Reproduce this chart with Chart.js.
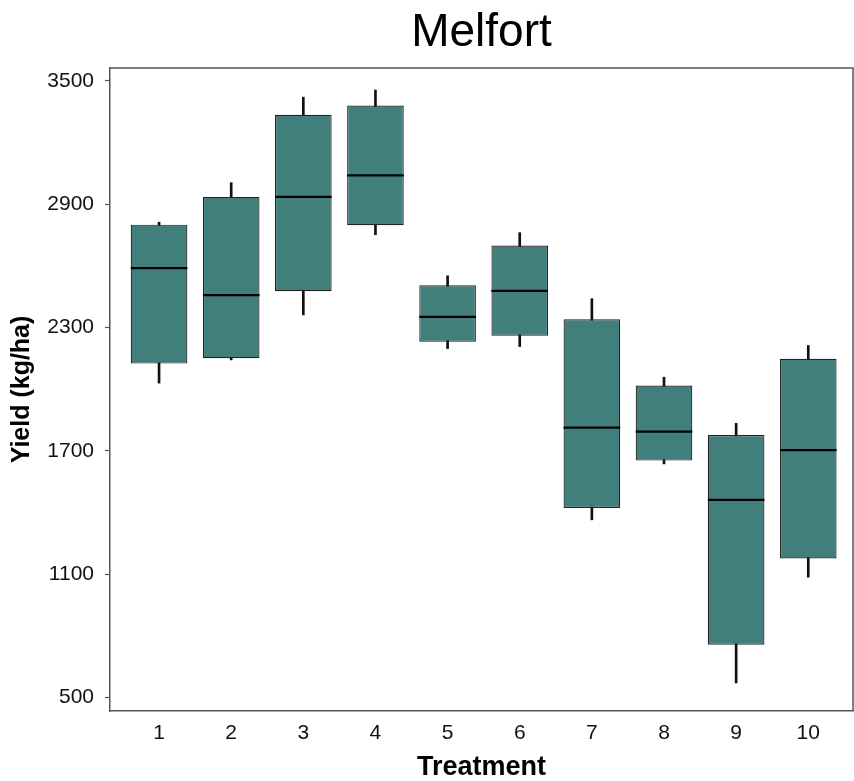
<!DOCTYPE html>
<html>
<head>
<meta charset="utf-8">
<script src="https://cdn.jsdelivr.net/npm/chart.js@4/dist/chart.umd.min.js"></script>
<style>
  body { margin: 0; background: #fff; }
  #wrap { width: 854px; height: 781px; }
</style>
</head>
<body>
<div id="wrap"><canvas id="chart" width="854" height="781"></canvas></div>
<script>
// Melfort yield per treatment (kg/ha)
const treatments = [1, 2, 3, 4, 5, 6, 7, 8, 9, 10];
const whiskerLow  = [2030, 2143, 2362, 2752, 2198, 2208, 1365, 1637,  571, 1086];
const q1          = [2125, 2151, 2477, 2798, 2231, 2261, 1423, 1653,  757, 1177];
const median      = [2589, 2458, 2936, 3041, 2352, 2479, 1814, 1794, 1462, 1704];
const q3          = [2801, 2936, 3335, 3380, 2506, 2699, 2341, 2018, 1778, 2148];
const whiskerHigh = [2813, 3005, 3421, 3456, 2552, 2762, 2441, 2059, 1835, 2213];
const yTicks = [500, 1100, 1700, 2300, 2900, 3500];

const FONT = "'Liberation Sans', Arial, Helvetica, sans-serif";
const BOX_FILL = '#407f7c';
const FRAME = '#555555';

// top and right edges of the panel frame
const framePlugin = {
  id: 'frame',
  afterDraw(chart) {
    const { ctx, chartArea: a } = chart;
    ctx.save();
    ctx.strokeStyle = FRAME;
    ctx.lineWidth = 1.5;
    ctx.beginPath();
    ctx.moveTo(a.left, a.top);
    ctx.lineTo(a.right, a.top);
    ctx.lineTo(a.right, a.bottom);
    ctx.stroke();
    ctx.restore();
  }
};

const ctx = document.getElementById('chart').getContext('2d');

new Chart(ctx, {
  type: 'bar',
  data: {
    datasets: [
      {
        // median line, a horizontal "line" point spanning the box
        type: 'line',
        label: 'median',
        data: treatments.map((t, i) => ({ x: t, y: median[i] })),
        showLine: false,
        pointStyle: 'line',
        pointRadius: 28.3,
        pointBorderWidth: 2.2,
        pointBorderColor: '#000',
        pointBackgroundColor: '#000',
        order: 0
      },
      {
        label: 'box',
        data: treatments.map((t, i) => ({ x: t, y: [q1[i], q3[i]] })),
        backgroundColor: BOX_FILL,
        borderColor: '#222',
        borderWidth: 1.2,
        borderSkipped: false,
        grouped: false,
        categoryPercentage: 1,
        barPercentage: 0.785,
        order: 1
      },
      {
        label: 'whisker',
        data: treatments.map((t, i) => ({ x: t, y: [whiskerLow[i], whiskerHigh[i]] })),
        backgroundColor: '#111',
        borderWidth: 0,
        grouped: false,
        barThickness: 2,
        order: 2
      }
    ]
  },
  options: {
    responsive: false,
    animation: false,
    layout: { autoPadding: false, padding: { left: 0, right: 1, top: 0, bottom: 0 } },
    plugins: {
      legend: { display: false },
      tooltip: { enabled: false },
      title: {
        display: true,
        fullSize: false,
        text: 'Melfort',
        color: '#000',
        font: { family: FONT, size: 46, weight: 'normal', lineHeight: 1.2 },
        padding: { top: 6, bottom: 6.8 }
      }
    },
    scales: {
      x: {
        type: 'linear',
        offset: false,
        min: 0.32,
        max: 10.62,
        afterBuildTicks: (scale) => { scale.ticks = treatments.map(v => ({ value: v })); },
        afterFit: (scale) => { scale.height = 70; },
        grid: { display: false, drawTicks: false, offset: false },
        border: { display: true, color: FRAME, width: 1.5 },
        ticks: {
          color: '#111',
          padding: 10,
          font: { family: FONT, size: 21 },
          callback: (v) => String(v)
        },
        title: {
          display: true,
          text: 'Treatment',
          color: '#000',
          font: { family: FONT, size: 27, weight: 'bold', lineHeight: 1 },
          padding: { top: 0, bottom: 0 }
        }
      },
      y: {
        min: 435,
        max: 3563,
        afterBuildTicks: (scale) => { scale.ticks = yTicks.map(v => ({ value: v })); },
        afterFit: (scale) => { scale.width = 110; },
        grid: { drawOnChartArea: false, drawTicks: true, tickLength: 5, tickColor: FRAME, tickWidth: 1.2 },
        border: { display: true, color: FRAME, width: 1.5 },
        ticks: {
          color: '#111',
          padding: 11,
          font: { family: FONT, size: 21 },
          callback: (v) => String(v)
        },
        title: {
          display: true,
          text: 'Yield (kg/ha)',
          color: '#000',
          font: { family: FONT, size: 25, weight: 'bold', lineHeight: 1 },
          padding: { top: 10, bottom: 0 }
        }
      }
    }
  },
  plugins: [framePlugin]
});
</script>
</body>
</html>
